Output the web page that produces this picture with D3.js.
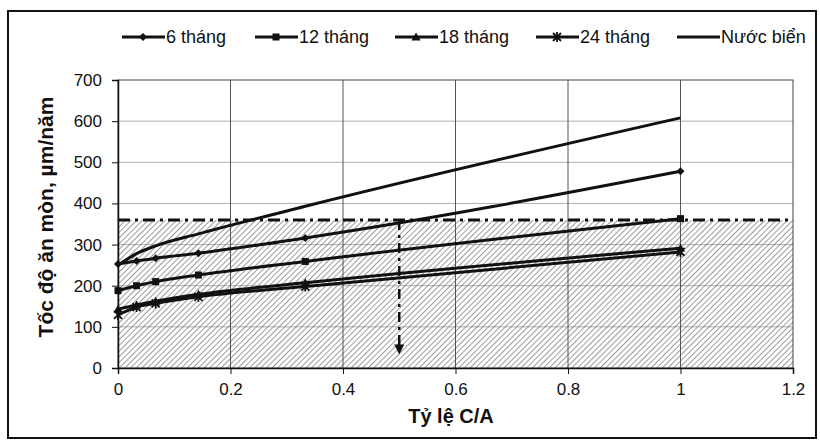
<!DOCTYPE html>
<html><head><meta charset="utf-8">
<script src="https://cdn.jsdelivr.net/npm/d3@7"></script>
<style>
body{margin:0;background:#fff;}
svg{display:block;font-family:"Liberation Sans",Arial,sans-serif;}
</style></head>
<body><svg id="c" width="820" height="442"></svg>
<script>
// ---- data ----
const ratios = [0, 0.033, 0.067, 0.143, 0.333, 1];
const series6 = [253, 260, 267, 279, 316, 478];
const series12 = [188, 200, 210, 226, 259, 363];
const series18 = [143, 153, 162, 179, 207, 291];
const series24 = [129, 148, 157, 173, 198, 282];
const seawater = [250, 278, 297, 326, 393, 608];
const seriesNames = ["6 tháng", "12 tháng", "18 tháng", "24 tháng", "Nước biển"];
const seriesMarkers = ["diamond", "square", "triangle", "star", "none"];
const xTicks = [0, 0.2, 0.4, 0.6, 0.8, 1, 1.2];
const yTicks = [0, 100, 200, 300, 400, 500, 600, 700];
const thresholdValue = 360;
const arrowX = 0.5;
const arrowEnd = 33;

const allSeries = [series6, series12, series18, series24, seawater];

const svg = d3.select("#c");
const L = 118, R = 793, T = 80, B = 368;
const x = d3.scaleLinear().domain([0, 1.2]).range([L, R]);
const y = d3.scaleLinear().domain([0, 700]).range([B, T]);

// outer frame
svg.append("rect").attr("x", 8).attr("y", 11).attr("width", 808).attr("height", 427)
  .attr("fill", "none").attr("stroke", "#111").attr("stroke-width", 2);

// hatch pattern
const defs = svg.append("defs");
const pat = defs.append("pattern").attr("id", "hatch").attr("patternUnits", "userSpaceOnUse")
  .attr("width", 4).attr("height", 4).attr("patternTransform", "rotate(45)");
pat.append("line").attr("x1", 0).attr("y1", 0).attr("x2", 0).attr("y2", 4)
  .attr("stroke", "#666").attr("stroke-width", 1.3);

// horizontal gridlines
svg.append("g").selectAll("line").data(yTicks.filter(d => d > 0 && d < 700)).join("line")
  .attr("x1", L).attr("x2", R).attr("y1", d => y(d)).attr("y2", d => y(d))
  .attr("stroke", "#b0b0b0").attr("stroke-width", 1);

// hatched region
svg.append("rect").attr("x", x(0)).attr("y", y(thresholdValue)).attr("width", x(1.2) - x(0))
  .attr("height", y(0) - y(thresholdValue)).attr("fill", "url(#hatch)");

// vertical gridlines
svg.append("g").selectAll("line").data(xTicks.filter(d => d > 0 && d < 1.2)).join("line")
  .attr("x1", d => x(d)).attr("x2", d => x(d)).attr("y1", T).attr("y2", B)
  .attr("stroke", "#555").attr("stroke-width", 1);

// plot border
svg.append("rect").attr("x", L).attr("y", T).attr("width", R - L).attr("height", B - T)
  .attr("fill", "none").attr("stroke", "#444").attr("stroke-width", 1);

// axes
const xAxis = svg.append("g").attr("transform", `translate(0,${B})`)
  .call(d3.axisBottom(x).tickValues(xTicks).tickSize(6).tickFormat(d => d3.format("")(d)));
const yAxis = svg.append("g").attr("transform", `translate(${L},0)`)
  .call(d3.axisLeft(y).tickValues(yTicks).tickSize(6).tickPadding(10).tickFormat(d3.format("d")));
[xAxis, yAxis].forEach(a => {
  a.select(".domain").attr("stroke", "#111").attr("stroke-width", 1.5);
  a.selectAll(".tick line").attr("stroke", "#111");
  a.selectAll("text").attr("font-size", 17).attr("fill", "#111")
    .attr("font-family", "'Liberation Sans',Arial,sans-serif");
});
xAxis.selectAll("text").attr("dy", "1.05em");

// threshold dash-dot line
svg.append("line").attr("x1", x(0)).attr("x2", x(1.2))
  .attr("y1", y(thresholdValue)).attr("y2", y(thresholdValue))
  .attr("stroke", "#111").attr("stroke-width", 3).attr("stroke-dasharray", "12,5,3,5");

// vertical arrow
svg.append("line").attr("x1", x(arrowX)).attr("x2", x(arrowX))
  .attr("y1", y(thresholdValue)).attr("y2", y(arrowEnd) - 8)
  .attr("stroke", "#111").attr("stroke-width", 2.5).attr("stroke-dasharray", "10,5,3,5");
svg.append("path")
  .attr("d", `M${x(arrowX) - 5},${y(arrowEnd) - 10} L${x(arrowX) + 5},${y(arrowEnd) - 10} L${x(arrowX)},${y(arrowEnd)} Z`)
  .attr("fill", "#111");

// series lines
const line = d3.line().x(d => x(d[0])).y(d => y(d[1])).curve(d3.curveMonotoneX);
allSeries.forEach((s, i) => {
  const pts = ratios.map((r, j) => [r, s[j]]);
  svg.append("path").attr("d", line(pts)).attr("fill", "none")
    .attr("stroke", "#111").attr("stroke-width", 3);
});

function marker(g, type, cx, cy) {
  if (type === "diamond") {
    g.append("path").attr("d", `M${cx},${cy - 4} L${cx + 4},${cy} L${cx},${cy + 4} L${cx - 4},${cy} Z`).attr("fill", "#111");
  } else if (type === "square") {
    g.append("rect").attr("x", cx - 3.5).attr("y", cy - 3.5).attr("width", 7).attr("height", 7).attr("fill", "#111");
  } else if (type === "triangle") {
    g.append("path").attr("d", `M${cx},${cy - 4.5} L${cx + 4.5},${cy + 3.5} L${cx - 4.5},${cy + 3.5} Z`).attr("fill", "#111");
  } else if (type === "star") {
    g.append("path").attr("d", `M${cx - 4},${cy - 4} L${cx + 4},${cy + 4} M${cx - 4},${cy + 4} L${cx + 4},${cy - 4} M${cx},${cy - 5} L${cx},${cy + 5}`)
      .attr("stroke", "#111").attr("stroke-width", 1.8);
  }
}
const mg = svg.append("g");
allSeries.forEach((s, i) => {
  ratios.forEach((r, j) => marker(mg, seriesMarkers[i], x(r), y(s[j])));
});

// legend
const legendX = [122, 255, 395, 536, 677];
const lg = svg.append("g");
seriesNames.forEach((name, i) => {
  const x0 = legendX[i], ly = 37;
  lg.append("line").attr("x1", x0).attr("x2", x0 + 43).attr("y1", ly).attr("y2", ly)
    .attr("stroke", "#111").attr("stroke-width", 3);
  marker(lg, seriesMarkers[i], x0 + 21, ly);
  lg.append("text").attr("x", x0 + 44).attr("y", ly + 6).attr("font-size", 18).attr("fill", "#111").text(name);
});

// axis titles
svg.append("text").attr("x", 451).attr("y", 423).attr("text-anchor", "middle")
  .attr("font-size", 20).attr("font-weight", "bold").attr("fill", "#111").text("Tỷ lệ C/A");
svg.append("text").attr("transform", "translate(53,217) rotate(-90)").attr("text-anchor", "middle")
  .attr("font-size", 21).attr("font-weight", "bold").attr("fill", "#111").text("Tốc độ ăn mòn, µm/năm");
</script></body></html>
